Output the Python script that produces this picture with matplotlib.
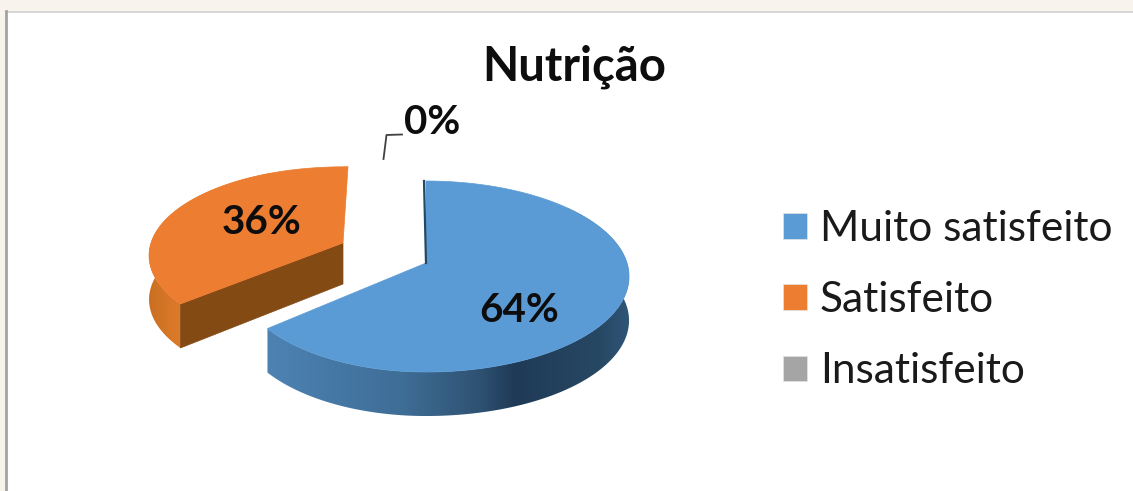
"""3D-look exploded pie for the Nutricao chart, drawn in pixel coordinates."""
import numpy as np
import matplotlib as mpl

mpl.use("Agg")
import matplotlib.pyplot as plt
from matplotlib.patches import Patch, Polygon, Rectangle
from matplotlib.colors import to_rgb

plt.rcParams["font.family"] = ["Lato", "DejaVu Sans"]

TITLE = "Nutrição"
LABELS = ["Muito satisfeito", "Satisfeito", "Insatisfeito"]
VALUES = [64, 36, 0]
COLORS = ["#5b9bd5", "#ed7d31", "#a5a5a5"]

W, H = 1133, 491
PERSP = 0.1415   # foreshortening of the tilted disc
DEPTH = 44
RX_RIGHT, RX_LEFT, RY = 201, 192, 93.6


def disc(theta, cx, cy, yscale=1.0, xleft=1.0):
    """Clockwise angle from 12 o'clock (degrees) -> pixel position on the top rim."""
    t = np.radians(theta)
    u, v = np.sin(t), np.cos(t)
    w = 1 + PERSP * v
    rx = np.where(u >= 0, RX_RIGHT, RX_LEFT * xleft)
    return cx + rx * u / w, cy - yscale * RY * v / w


def draw_rim(ax, xs, ys, stops):
    # outer wall: horizontal gradient clipped to the extruded rim
    outline = list(zip(xs, ys)) + list(zip(xs[::-1], ys[::-1] + DEPTH))
    x0, x1 = xs.min(), xs.max()
    y0, y1 = ys.min(), ys.max() + DEPTH
    grid = np.linspace(x0, x1, 300)
    rgb = np.array([to_rgb(s[1]) for s in stops])
    px = [s[0] for s in stops]
    img = np.stack([np.interp(grid, px, rgb[:, i]) for i in range(3)], axis=-1)[None, :, :]
    im = ax.imshow(img, extent=(x0, x1, y1, y0), aspect="auto", interpolation="bilinear", zorder=1)
    clip = Polygon(outline, closed=True, transform=ax.transData)
    im.set_clip_path(clip)


def top_face(ax, xs, ys, cx, cy, color):
    pts = [(cx, cy)] + list(zip(xs, ys))
    ax.add_patch(Polygon(pts, closed=True, fc=color, ec=color, lw=0.5, zorder=3))


fig = plt.figure(figsize=(W / 100, H / 100), dpi=100, facecolor="#f9f3ee")
ax = fig.add_axes([0, 0, 1, 1])
ax.axis("off")

# chart area with its window border
ax.add_patch(Rectangle((6, 11), W, H, fc="white", ec="none", zorder=0))
ax.plot([6, W], [11.5, 11.5], color="#cfcfcf", lw=1.2, zorder=0.5)
ax.plot([6, 6], [11, H], color="#a3a3a3", lw=2.0, zorder=0.5)

end_blue = 360 * VALUES[0] / sum(VALUES)

# orange slice, pulled out from the pie
ocx, ocy = 343, 243
th = np.linspace(end_blue, 360, 120)
xs, ys = disc(th, ocx, ocy, yscale=0.93)
xs = xs + 5 * np.clip((xs - xs[0]) / (xs[-1] - xs[0]), 0, 1) ** 6  # top tip leans right
front = th < 335
draw_rim(ax, xs[front], ys[front], [(148, "#c96f22"), (178, "#dc7a2a")])
ax.add_patch(Polygon([(ocx, ocy), (xs[0], ys[0]), (xs[0], ys[0] + DEPTH),
                      (ocx, ocy + DEPTH - 3)], closed=True, fc="#834a14", ec="#834a14",
                     lw=0.5, zorder=2))
top_face(ax, xs, ys, ocx, ocy, COLORS[1])

# blue slice
bcx, bcy = 426, 263
th = np.linspace(0, end_blue, 240)
xs, ys = disc(th, bcx, bcy, xleft=0.975)
front = th > 50
draw_rim(ax, xs[front], ys[front],
         [(268, "#4d82b3"), (400, "#3f6e97"), (480, "#2f5273"), (515, "#1f3a56"),
          (600, "#274863"), (630, "#2f5678")])
top_face(ax, xs, ys, bcx, bcy, COLORS[0])
ax.plot([xs[0] - 2, bcx], [ys[0], bcy], color="#274863", lw=1.6, zorder=4)

# data labels
lab = dict(fontsize=29, fontweight="bold", color="#0d0d0d", ha="center", va="center", zorder=5)
ax.text(519, 311, f"{VALUES[0]}%", **lab)
ax.text(262, 223, f"{VALUES[1]}%", **lab)
ax.text(432, 122, f"{VALUES[2]}%", **lab)
ax.plot([383.5, 386.5, 402], [159, 135, 134.5], color="#404040", lw=1.3, zorder=4)

ax.text(574, 67, TITLE, fontsize=34, fontweight="bold", color="#0d0d0d",
        ha="center", va="center", zorder=5)

ax.set_xlim(0, W)
ax.set_ylim(H, 0)

handles = [Patch(fc=c, ec="#e4e4e4", lw=0.5) for c in COLORS]
ax.legend(handles, LABELS, loc="center left", bbox_to_anchor=(783 / W, 1 - 300 / H),
          frameon=False, fontsize=30.5, labelcolor="#1a1a1a", handlelength=0.565,
          handleheight=0.565, handletextpad=0.3, labelspacing=0.79, borderpad=0,
          borderaxespad=0)

fig.savefig("out.png", dpi=100, facecolor=fig.get_facecolor())
